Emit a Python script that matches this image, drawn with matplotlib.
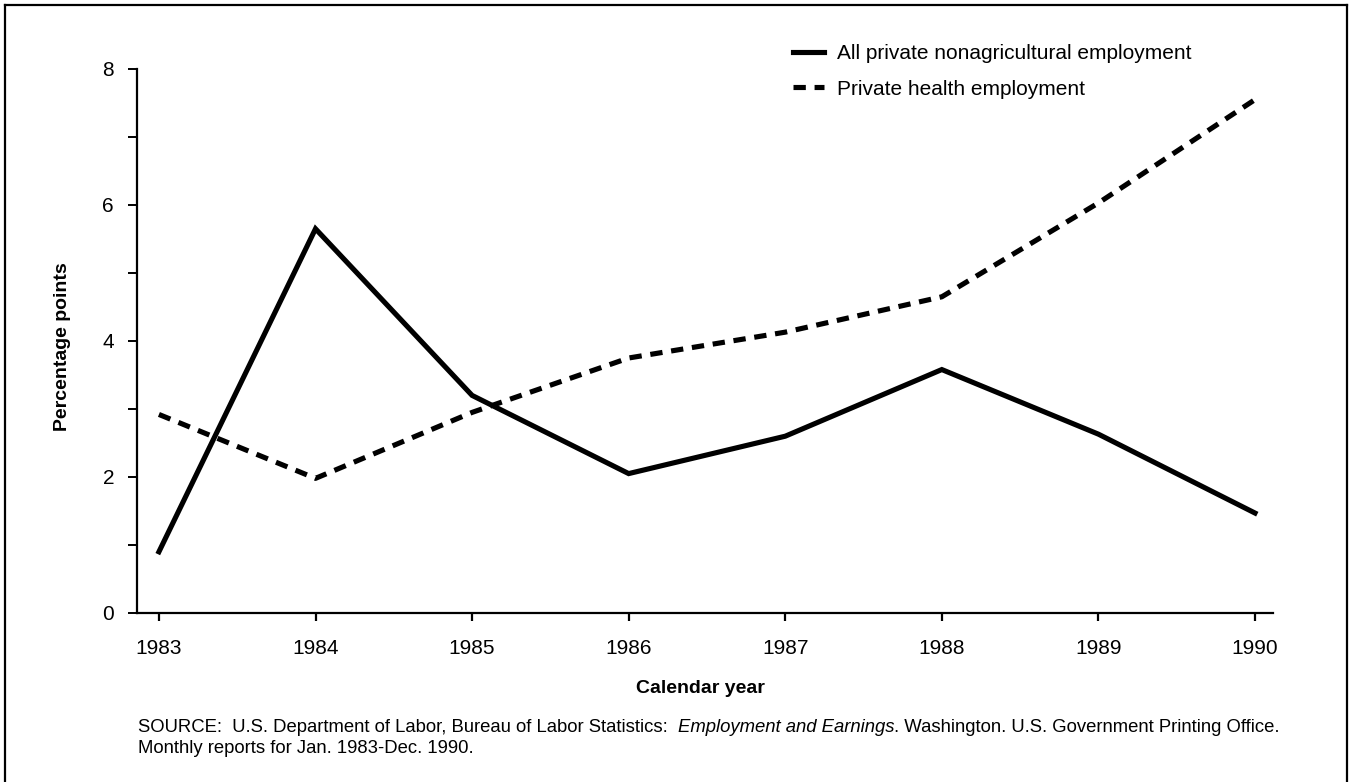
import matplotlib
matplotlib.use('Agg')
import matplotlib.pyplot as plt
from matplotlib.lines import Line2D

plt.rcParams['font.family'] = ['Liberation Sans', 'DejaVu Sans']

# data
years = [1983, 1984, 1985, 1986, 1987, 1988, 1989, 1990]
all_private = [0.9, 5.65, 3.2, 2.05, 2.6, 3.58, 2.63, 1.47]
health = [2.92, 1.98, 2.95, 3.75, 4.13, 4.65, 6.03, 7.55]
yticks = [0, 2, 4, 6, 8]

fig = plt.figure(figsize=(13.51, 7.82), dpi=100)
ax = fig.add_axes([137/1351, 169/782, 1136/1351, 544/782])

ax.plot(years, all_private, color='black', lw=3.7, solid_joinstyle='miter',
        label='All private nonagricultural employment')
ax.plot(years, health, color='black', lw=3.7, dashes=(2.4, 1.7),
        dash_capstyle='butt', label='Private health employment')

ax.set_xlim(1982.86, 1990.115)
ax.set_ylim(0, 8)
ax.set_xticks(years)
ax.set_yticks(yticks)
ax.set_yticks([1, 3, 5, 7], minor=True)
for s in ['top', 'right']:
    ax.spines[s].set_visible(False)
for s in ['left', 'bottom']:
    ax.spines[s].set_linewidth(1.6)
ax.tick_params(axis='y', which='both', direction='out', length=6.5, width=1.4,
               pad=10, labelsize=15)
ax.tick_params(axis='x', direction='out', length=6, width=1.6, pad=13, labelsize=15)

ax.set_ylabel('Percentage points', fontsize=14, fontweight='bold')
ax.yaxis.set_label_coords(-0.058, 0.49)
ax.set_xlabel('Calendar year', fontsize=14, fontweight='bold')
ax.xaxis.set_label_coords(0.4956, -0.124)

leg = ax.legend(loc='upper left', bbox_to_anchor=(793/1351, 1 - 44/782),
                bbox_transform=fig.transFigure, frameon=False, fontsize=15,
                handlelength=1.5, handletextpad=0.6, labelspacing=0.8,
                borderpad=0, borderaxespad=0)

# source note with italic title
fs = 13.35
t1 = fig.text(138/1351, 1 - 732/782,
              'SOURCE:  U.S. Department of Labor, Bureau of Labor Statistics:  ',
              fontsize=fs, va='baseline')
t2 = ax.annotate('Employment and Earnings', xy=(1, 0), xycoords=t1,
                 fontsize=fs, style='italic', va='bottom')
t3 = ax.annotate('. Washington. U.S. Government Printing Office.', xy=(1, 0),
                 xycoords=t2, fontsize=fs, va='bottom')
fig.text(138/1351, 1 - 753/782, 'Monthly reports for Jan. 1983-Dec. 1990.',
         fontsize=fs, va='baseline')

# frame around the figure
fig.add_artist(Line2D([5/1351, 5/1351], [0, 1 - 5/782], color='black', lw=1.6,
                      transform=fig.transFigure))
fig.add_artist(Line2D([5/1351, 1347/1351], [1 - 5/782, 1 - 5/782], color='black',
                      lw=1.6, transform=fig.transFigure))
fig.add_artist(Line2D([1347/1351, 1347/1351], [0, 1 - 5/782], color='black',
                      lw=1.6, transform=fig.transFigure))

fig.savefig('out.png', dpi=100)
